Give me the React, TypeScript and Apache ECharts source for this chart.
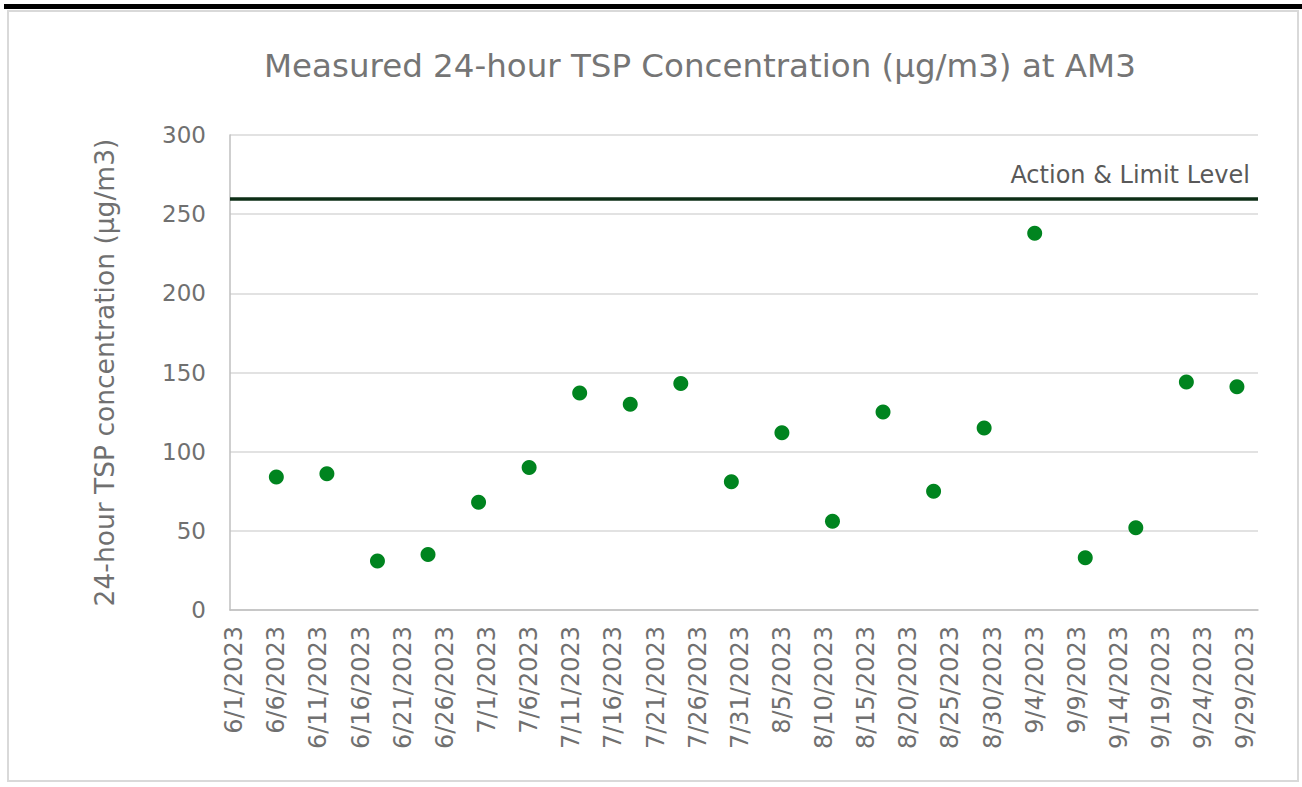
import React, { useEffect, useRef } from "react";
import * as echarts from "echarts";

const START = new Date(2023, 5, 1);
const DAY_COUNT = 122; // 6/1/2023 .. 9/30/2023
const categories: string[] = [];
for (let i = 0; i < DAY_COUNT; i++) {
  const d = new Date(START.getFullYear(), START.getMonth(), START.getDate() + i);
  categories.push(`${d.getMonth() + 1}/${d.getDate()}/${d.getFullYear()}`);
}

const sampleDates = [
  "6/6/2023", "6/12/2023", "6/18/2023", "6/24/2023", "6/30/2023",
  "7/6/2023", "7/12/2023", "7/18/2023", "7/24/2023", "7/30/2023",
  "8/5/2023", "8/11/2023", "8/17/2023", "8/23/2023", "8/29/2023",
  "9/4/2023", "9/10/2023", "9/16/2023", "9/22/2023", "9/28/2023",
];
const tspValues = [
  84, 86, 31, 35, 68,
  90, 137, 130, 143, 81,
  112, 56, 125, 75, 115,
  238, 33, 52, 144, 141,
];
const actionLimitLevel = 260;
const yTicks = { min: 0, max: 300, interval: 50 };

const FONT = "DejaVu Sans, Verdana, sans-serif";

export default function App() {
  const ref = useRef<HTMLDivElement>(null);
  useEffect(() => {
    document.body.style.margin = "0";
    const chart = echarts.init(ref.current!, undefined, { renderer: "svg" });
    chart.setOption({
      animation: false,
      backgroundColor: "#ffffff",
      textStyle: { fontFamily: FONT },
      graphic: [
        { type: "rect", shape: { x: 4, y: 4, width: 1298, height: 5 }, style: { fill: "#000000" }, z: 0 },
        {
          type: "rect",
          shape: { x: 8, y: 11, width: 1290, height: 770 },
          style: { fill: "none", stroke: "#d9d9d9", lineWidth: 2 },
          z: 0,
        },
      ],
      title: {
        text: "Measured 24-hour TSP Concentration (µg/m3) at AM3",
        left: 259,
        top: 44,
        textStyle: { fontFamily: FONT, fontSize: 32.5, fontWeight: "normal", color: "#757575" },
      },
      grid: { left: 230, right: 44, top: 135, bottom: 177, containLabel: false },
      xAxis: {
        type: "category",
        data: categories,
        boundaryGap: true,
        axisLine: { show: true, lineStyle: { color: "#bfbfbf", width: 1.5 } },
        axisTick: { show: false },
        axisLabel: {
          interval: 4,
          rotate: 90,
          margin: 16,
          fontFamily: FONT,
          fontSize: 24,
          color: "#707070",
        },
        splitLine: { show: false },
      },
      yAxis: {
        type: "value",
        min: yTicks.min,
        max: yTicks.max,
        interval: yTicks.interval,
        name: "24-hour TSP concentration (µg/m3)",
        nameLocation: "middle",
        nameGap: 112,
        nameTextStyle: { fontFamily: FONT, fontSize: 26.5, color: "#707070" },
        axisLine: { show: true, lineStyle: { color: "#bfbfbf", width: 1.5 } },
        axisTick: { show: false },
        axisLabel: { fontFamily: FONT, fontSize: 23, color: "#707070", margin: 24 },
        splitLine: { show: true, lineStyle: { color: "#d9d9d9", width: 1.5 } },
      },
      series: [
        {
          type: "scatter",
          name: "TSP",
          data: sampleDates.map((d, i) => [d, tspValues[i]]),
          symbol: "circle",
          symbolSize: 15,
          itemStyle: { color: "#00841f", opacity: 1 },
          markLine: {
            silent: true,
            symbol: "none",
            data: [{ yAxis: actionLimitLevel }],
            lineStyle: { color: "#0d2e16", width: 3.5, type: "solid" },
            label: {
              show: true,
              position: "insideEndTop",
              formatter: "Action & Limit Level",
              fontFamily: FONT,
              fontSize: 24,
              color: "#595959",
              distance: [8, 11],
            },
          },
        },
      ],
    });
    return () => chart.dispose();
  }, []);
  return <div ref={ref} style={{ position: "absolute", left: 0, top: 0, width: 1302, height: 787 }} />;
}
